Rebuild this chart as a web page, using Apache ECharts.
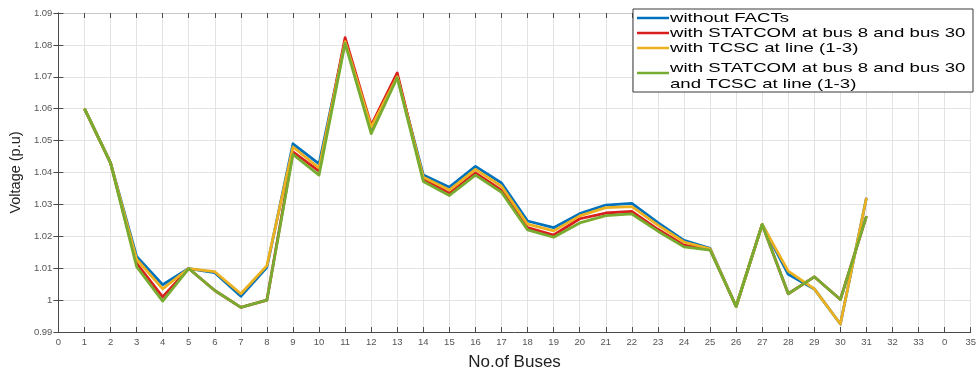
<!DOCTYPE html>
<html>
<head>
<meta charset="utf-8">
<script src="https://cdn.jsdelivr.net/npm/echarts@6/dist/echarts.min.js"></script>
<style>
  html, body { margin: 0; padding: 0; background: #fff; }
  #chart { width: 979px; height: 376px; }
</style>
</head>
<body>
<div id="chart"></div>
<script>
// Bus numbers along the x axis
var buses = [1,2,3,4,5,6,7,8,9,10,11,12,13,14,15,16,17,18,19,20,21,22,23,24,25,26,27,28,29,30,31];

// Bus voltages (p.u) for each case
var withoutFacts = [1.060,1.043,1.0137,1.0048,1.0099,1.0086,1.0012,1.0103,1.0490,1.0427,1.0812,1.0538,1.0702,1.0392,1.0354,1.0419,1.0367,1.0248,1.0227,1.0271,1.0298,1.0303,1.0243,1.0187,1.0162,0.9980,1.0237,1.0081,1.0035,0.9925,1.0321];
var withStatcom = [1.060,1.043,1.0115,1.0010,1.0099,1.0030,0.9977,1.0000,1.0465,1.0404,1.0823,1.0548,1.0712,1.0378,1.0335,1.0399,1.0345,1.0227,1.0204,1.0255,1.0273,1.0278,1.0222,1.0172,1.0159,0.9980,1.0237,1.0020,1.0073,1.0002,1.0263];
var withTcsc = [1.060,1.043,1.0128,1.0035,1.0099,1.0089,1.0020,1.0108,1.0480,1.0414,1.0810,1.0542,1.0700,1.0385,1.0345,1.0410,1.0357,1.0238,1.0217,1.0264,1.0290,1.0293,1.0235,1.0182,1.0161,0.9980,1.0237,1.0091,1.0035,0.9925,1.0321];
var withBoth = [1.060,1.043,1.0105,0.9997,1.0099,1.0030,0.9977,1.0000,1.0457,1.0392,1.0805,1.0522,1.0697,1.0372,1.0328,1.0392,1.0338,1.0220,1.0197,1.0242,1.0265,1.0270,1.0216,1.0167,1.0157,0.9980,1.0237,1.0020,1.0073,1.0002,1.0263];

var seriesNames = [
  'without FACTs',
  'with STATCOM at bus 8 and bus 30',
  'with TCSC at line (1-3)',
  'with STATCOM at bus 8 and bus 30\nand TCSC at line (1-3)'
];
var seriesColors = ['#0072BD', '#D91E1E', '#EDB120', '#77AC30'];

// Tick labels of the bus axis (positions 0..35)
var xTickLabels = ['0','1','2','3','4','5','6','7','8','9','10','11','12','13','14','15','16','17','18','19','20','21','22','23','24','25','26','27','28','29','30','31','32','33','0','35'];

var allSeries = [withoutFacts, withStatcom, withTcsc, withBoth];

function pairs(vals) {
  return buses.map(function (b, i) { return [b, vals[i]]; });
}

var chart = echarts.init(document.getElementById('chart'), null, { renderer: 'canvas' });

var axisColor = '#4a4a4a';
var gridColor = '#e3e3e3';
var fontFam = '"Liberation Sans", Arial, sans-serif';
var LEGEND_Z = 100;

// Legend drawn as a boxed group with line swatches, above grid and axes
var legendChildren = [{
  type: 'rect',
  z: LEGEND_Z,
  shape: { x: 0, y: 0, width: 340, height: 83 },
  style: { fill: '#ffffff', stroke: '#3a3a3a', lineWidth: 1 }
}];
var rowY = [9, 24, 39, 64];
var textY = [9, 24, 39, 67];
seriesNames.forEach(function (name, i) {
  legendChildren.push({
    type: 'line',
    z: LEGEND_Z + 1,
    shape: { x1: 4, y1: rowY[i], x2: 36, y2: rowY[i] },
    style: { stroke: seriesColors[i], lineWidth: 2.5 }
  });
  legendChildren.push({
    type: 'text',
    z: LEGEND_Z + 1,
    x: 37, y: textY[i],
    scaleX: 1.38,
    style: {
      text: name,
      font: '13.5px ' + fontFam,
      fill: '#000',
      align: 'left',
      verticalAlign: 'middle',
      lineHeight: 16
    }
  });
});

var option = {
  animation: false,
  backgroundColor: '#ffffff',
  grid: { left: 56, right: 6, top: 13, bottom: 33, containLabel: false },
  xAxis: [{
    type: 'value',
    min: 0, max: 35, interval: 1,
    name: 'No.of Buses',
    nameLocation: 'middle',
    nameGap: 22,
    nameTextStyle: { fontSize: 17, color: '#222', fontFamily: fontFam },
    axisLine: { show: true, lineStyle: { color: axisColor, width: 1 } },
    axisTick: { show: true, inside: true, length: 5, lineStyle: { color: axisColor } },
    axisLabel: {
      fontSize: 9.5, color: '#555', margin: 5, fontFamily: fontFam,
      formatter: function (v) { return xTickLabels[Math.round(v)]; }
    },
    splitLine: { show: true, lineStyle: { color: gridColor, width: 1 } }
  }, {
    type: 'value', position: 'top',
    min: 0, max: 35, interval: 1,
    axisLine: { show: true, lineStyle: { color: '#c8c8c8', width: 1 } },
    axisTick: { show: true, inside: true, length: 5, lineStyle: { color: axisColor } },
    axisLabel: { show: false },
    splitLine: { show: false }
  }],
  yAxis: [{
    type: 'value',
    min: 0.99, max: 1.09, interval: 0.01,
    name: 'Voltage (p.u)',
    nameLocation: 'middle',
    nameGap: 35,
    nameTextStyle: { fontSize: 14.5, color: '#222', fontFamily: fontFam },
    axisLine: { show: true, lineStyle: { color: axisColor, width: 1 } },
    axisTick: { show: true, inside: true, length: 5, lineStyle: { color: axisColor } },
    axisLabel: {
      fontSize: 9.5, color: '#555', margin: 6, fontFamily: fontFam,
      formatter: function (v) { return String(parseFloat(v.toFixed(2))); }
    },
    splitLine: { show: true, lineStyle: { color: gridColor, width: 1 } }
  }, {
    type: 'value', position: 'right',
    min: 0.99, max: 1.09, interval: 0.01,
    axisLine: { show: true, lineStyle: { color: axisColor, width: 1 } },
    axisTick: { show: true, inside: true, length: 5, lineStyle: { color: axisColor } },
    axisLabel: { show: false },
    splitLine: { show: false }
  }],
  series: allSeries.map(function (vals, i) {
    return {
      name: seriesNames[i],
      type: 'line',
      data: pairs(vals),
      showSymbol: false,
      symbol: 'none',
      lineStyle: { color: seriesColors[i], width: 2.8, join: 'round' },
      itemStyle: { color: seriesColors[i] },
      z: 2 + i
    };
  }),
  graphic: [{
    type: 'group',
    x: 633, y: 9,
    z: LEGEND_Z,
    children: legendChildren
  }]
};

chart.setOption(option);
</script>
</body>
</html>
